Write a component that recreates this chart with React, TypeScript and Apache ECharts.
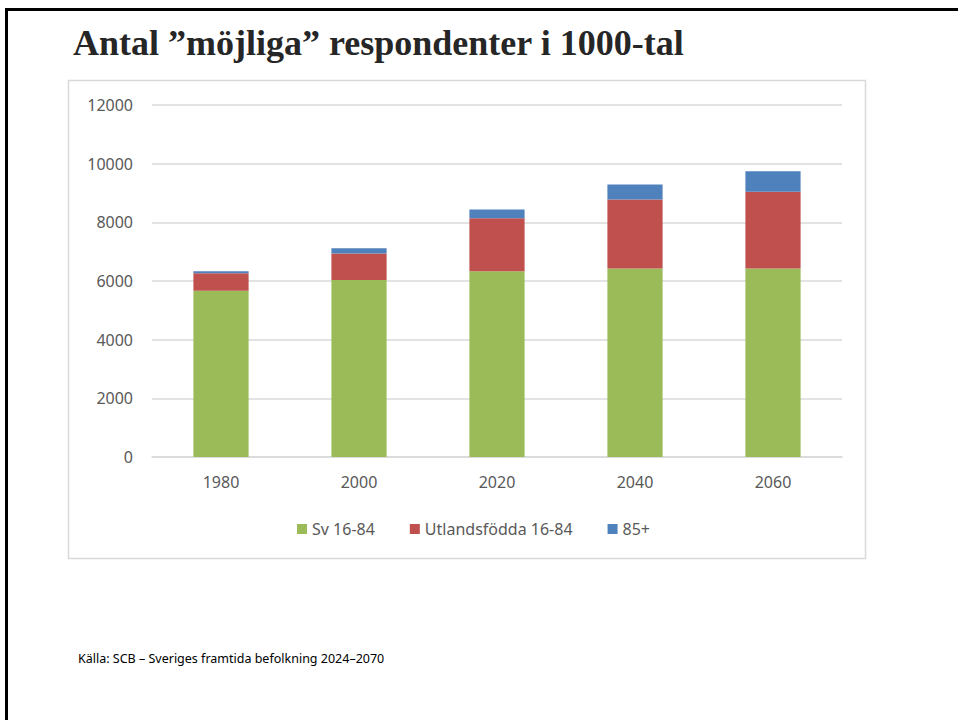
import React, { useEffect, useRef } from "react";
import * as echarts from "echarts";

const categories = ["1980", "2000", "2020", "2040", "2060"];
const svValues = [5670, 6030, 6330, 6430, 6430];
const utlValues = [590, 910, 1810, 2350, 2615];
const oldValues = [70, 180, 295, 510, 700];
const seriesNames = ["Sv 16-84", "Utlandsfödda 16-84", "85+"];
const colors = ["#9BBB59", "#C0504D", "#4F81BD"];

const FONT = "'Noto Sans', 'Open Sans', sans-serif";

export default function App() {
  const ref = useRef<HTMLDivElement>(null);
  useEffect(() => {
    document.body.style.margin = "0";
    const chart = echarts.init(ref.current!, null, { renderer: "svg" });
    const data = [svValues, utlValues, oldValues];
    chart.setOption({
      animation: false,
      backgroundColor: "#ffffff",
      textStyle: { fontFamily: FONT },
      grid: { left: 152, right: 116, top: 105, bottom: 263 },
      xAxis: {
        type: "category",
        data: categories,
        axisLine: { lineStyle: { color: "#d9d9d9", width: 1.5 } },
        axisTick: { show: false },
        axisLabel: { color: "#595959", fontSize: 16, margin: 17, fontFamily: FONT },
      },
      yAxis: {
        type: "value",
        min: 0,
        max: 12000,
        interval: 2000,
        axisLine: { show: false },
        axisTick: { show: false },
        splitLine: { lineStyle: { color: "#d9d9d9", width: 1.5 } },
        axisLabel: {
          color: "#595959",
          fontSize: 16,
          margin: 19,
          fontFamily: FONT,
          formatter: (v: number) => String(v),
        },
      },
      legend: {
        data: seriesNames,
        left: 292,
        top: 516,
        itemWidth: 10,
        itemHeight: 10,
        itemGap: 35,
        itemTextGap: 6,
        icon: "rect",
        textStyle: { color: "#595959", fontSize: 16, fontFamily: FONT },
      },
      series: seriesNames.map((name, i) => ({
        name,
        type: "bar",
        stack: "total",
        barWidth: "40%",
        data: data[i],
        itemStyle: { color: colors[i] },
      })),
      graphic: [
        {
          type: "line",
          shape: { x1: 5, y1: 9.5, x2: 958, y2: 9.5 },
          style: { stroke: "#000", lineWidth: 3 },
        },
        {
          type: "line",
          shape: { x1: 6.5, y1: 8, x2: 6.5, y2: 720 },
          style: { stroke: "#000", lineWidth: 3 },
        },
        {
          type: "rect",
          shape: { x: 68.5, y: 80.5, width: 797, height: 478 },
          style: { fill: "none", stroke: "#d9d9d9", lineWidth: 1.5 },
          z: -1,
        },
        {
          type: "text",
          x: 73,
          y: 61,
          style: {
            text: "Antal ”möjliga” respondenter i 1000-tal",
            font: "bold 36px 'Liberation Serif', serif",
            fill: "#262626",
            textVerticalAlign: "bottom",
          },
        },
        {
          type: "text",
          x: 78,
          y: 658,
          style: {
            text: "Källa: SCB – Sveriges framtida befolkning 2024–2070",
            font: "12.5px " + FONT,
            fill: "#000",
            textVerticalAlign: "middle",
          },
        },
      ],
    });
    return () => chart.dispose();
  }, []);
  return <div ref={ref} style={{ width: 958, height: 720 }} />;
}
